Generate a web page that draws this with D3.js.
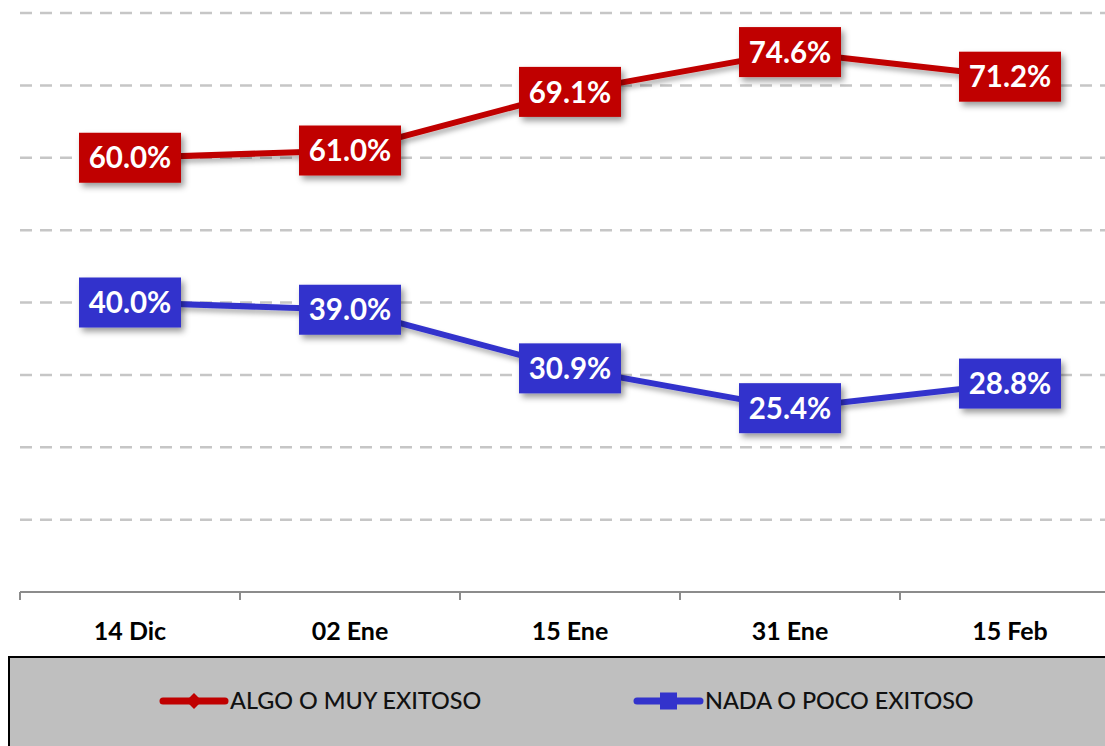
<!DOCTYPE html>
<html><head><meta charset="utf-8">
<script src="https://cdn.jsdelivr.net/npm/d3@7/dist/d3.min.js"></script>
<style>html,body{margin:0;padding:0;background:#fff;overflow:hidden}svg{display:block}</style>
</head><body>
<svg id="chart" width="1105" height="746"></svg>
<script>
const categories = ["14 Dic", "02 Ene", "15 Ene", "31 Ene", "15 Feb"];
const algoValues = [60.0, 61.0, 69.1, 74.6, 71.2];
const nadaValues = [40.0, 39.0, 30.9, 25.4, 28.8];
const seriesNames = ["ALGO O MUY EXITOSO", "NADA O POCO EXITOSO"];
const yTicks = [10, 20, 30, 40, 50, 60, 70, 80];

const series = [
  {name: seriesNames[0], values: algoValues, color: "#c00000", marker: "diamond"},
  {name: seriesNames[1], values: nadaValues, color: "#3333cc", marker: "square"}
];

const svg = d3.select("#chart");
const defs = svg.append("defs");
const f = defs.append("filter").attr("id","shadow").attr("x","-20%").attr("y","-30%").attr("width","150%").attr("height","180%");
f.append("feDropShadow").attr("dx",3).attr("dy",4).attr("stdDeviation",3).attr("flood-color","#000").attr("flood-opacity",0.4);
const f2 = defs.append("filter").attr("id","lshadow").attr("x","-5%").attr("y","-50%").attr("width","110%").attr("height","300%");
f2.append("feDropShadow").attr("dx",2).attr("dy",4).attr("stdDeviation",2.5).attr("flood-color","#000").attr("flood-opacity",0.3);

const x = d3.scaleBand().domain(categories).range([20, 1120]).padding(0);
const y = d3.scaleLinear().domain([0, 80]).range([592, 13]);

// gridlines
svg.append("g").selectAll("line").data(yTicks).join("line")
  .attr("x1", 20).attr("x2", 1110)
  .attr("y1", d => y(d)).attr("y2", d => y(d))
  .attr("stroke", "#c6c6c6").attr("stroke-width", 2.5).attr("stroke-dasharray", "12,8");

// x axis
const xAxis = d3.axisBottom(x).tickSize(0).tickPadding(0);
const gx = svg.append("g").attr("transform", "translate(0,592)").call(xAxis);
gx.select(".domain").remove();
gx.selectAll("text").remove();
svg.append("line").attr("x1",20).attr("x2",1110).attr("y1",592).attr("y2",592)
  .attr("stroke","#8c8c8c").attr("stroke-width",2);
const tickPos = categories.map(c => x(c)).concat([x(categories[categories.length-1]) + x.bandwidth()]);
svg.append("g").selectAll("line").data(tickPos).join("line")
  .attr("x1", d => d).attr("x2", d => d).attr("y1", 592).attr("y2", 600)
  .attr("stroke","#8c8c8c").attr("stroke-width",2);
svg.append("g").selectAll("text").data(categories).join("text")
  .attr("x", d => x(d) + x.bandwidth()/2).attr("y", 640)
  .attr("text-anchor","middle")
  .style("font-family","Lato, 'Open Sans', sans-serif").style("font-weight","bold").style("font-size","25px")
  .attr("fill","#000").text(d => d);

// lines
const line = d3.line().x((d,i) => x(categories[i]) + x.bandwidth()/2).y(d => y(d));
series.forEach(s => {
  svg.append("path").datum(s.values).attr("d", line)
    .attr("fill","none").attr("stroke", s.color).attr("stroke-width", 6)
    .attr("filter","url(#lshadow)");
});

// labels
series.forEach(s => {
  const g = svg.append("g");
  s.values.forEach((v,i) => {
    const cx = x(categories[i]) + x.bandwidth()/2, cy = y(v);
    const lg = g.append("g").attr("transform", `translate(${cx},${cy})`);
    const rect = lg.append("rect").attr("fill", s.color).attr("filter","url(#shadow)");
    lg.append("text").attr("text-anchor","middle").attr("dy","0.36em")
      .style("font-family","Lato, 'Open Sans', sans-serif").style("font-weight","bold").style("font-size","29.5px")
      .attr("fill","#fff").text(v.toFixed(1) + "%");
    const w = 102, h = 50;
    rect.attr("x", -w/2).attr("y", -h/2).attr("width", w).attr("height", h);
  });
});

// legend
svg.append("rect").attr("x", 9).attr("y", 657).attr("width", 1110).attr("height", 100)
  .attr("fill","#bfbfbf").attr("stroke","#000").attr("stroke-width",2);
const legendPos = [{x1:163, x2:225, tx:230}, {x1:637, x2:700, tx:705}];
series.forEach((s,i) => {
  const p = legendPos[i], ly = 701;
  svg.append("line").attr("x1",p.x1).attr("x2",p.x2).attr("y1",ly).attr("y2",ly)
    .attr("stroke", s.color).attr("stroke-width",7).attr("stroke-linecap","round");
  const mx = (p.x1+p.x2)/2;
  if (s.marker === "diamond") {
    svg.append("path").attr("d", d3.symbol(d3.symbolDiamond2, 160)()).attr("transform",`translate(${mx},${ly})`).attr("fill", s.color);
  } else {
    svg.append("rect").attr("x", mx-8.5).attr("y", ly-8.5).attr("width",17).attr("height",17).attr("fill", s.color);
  }
  svg.append("text").attr("x", p.tx).attr("y", ly).attr("dy","0.36em")
    .style("font-family","Lato, 'Open Sans', sans-serif").style("font-size","23.4px").style("font-weight","500")
    .attr("fill","#111").text(s.name);
});
</script>
</body></html>
